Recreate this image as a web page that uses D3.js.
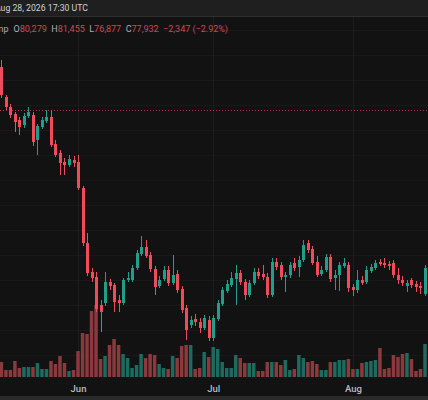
<!DOCTYPE html>
<html><head><meta charset="utf-8">
<script src="https://cdn.jsdelivr.net/npm/d3@7"></script>
<style>html,body{margin:0;padding:0;background:#121212;overflow:hidden}svg{display:block}</style>
</head><body><svg id="c" width="428" height="400"></svg>
<script>
// ---- data ----
const startDate = "2026-05-15";           // first daily candle
const monthTicks = ["2026-06-01", "2026-07-01", "2026-08-01"];
const open = [103800,100800,99800,99100,98500,98000,98900,99000,96500,97800,
98400,98800,96100,95200,94300,94000,94500,94300,91700,86200,
83300,82800,80000,80200,82300,82000,80500,80200,82500,82500,
83700,85100,85800,85000,83600,81900,82600,83500,82200,83100,
81600,79700,78000,78600,78300,77700,78500,76700,78600,80100,
81400,82000,82600,83200,82300,81000,82200,83300,83100,82800,
81000,84300,84000,82800,83000,84200,83800,84500,86200,85600,
84300,83100,83500,84800,82700,83000,83900,84000,81800,81500,
82500,82300,83400,83700,84300,84200,84100,84200,83000,82500,
81900,82500,82100,81900,81100];
const high = [104500,101000,100100,99300,98800,99200,99800,99300,98100,98800,
99500,99500,96500,95500,94700,95000,94900,95000,91900,87200,
83700,83300,80500,83300,82600,82200,81000,82700,83300,84000,
85500,86900,86500,85300,83900,82900,83900,83900,85000,83500,
81900,80000,78900,79100,78700,79000,78900,79000,80500,81800,
82500,83300,84000,83500,82600,82500,83700,83700,84000,83200,
84700,84700,84300,83300,84300,84700,84900,86500,86500,85900,
84900,83900,85100,85100,83500,84300,84700,84300,82100,83500,
82900,83900,84100,84500,84600,84700,84400,84500,83700,82900,
82500,82700,82400,82300,84000];
const low = [100700,99500,98700,97300,97000,97700,98700,95900,95000,97600,
98200,95800,94800,93000,93000,93800,93800,91500,85900,82900,
82300,79300,77300,79900,81500,79300,79300,80000,82300,82300,
83500,84900,84700,83300,81000,81700,82400,81900,82000,81200,
79200,76500,77700,77900,77200,77500,76400,76400,78400,79900,
81200,81800,80000,82000,80500,80800,82000,82600,82500,80700,
80800,83500,82500,81300,82700,83400,82800,84300,85200,84000,
82800,82900,83300,82300,81500,81400,83700,81300,80900,81200,
82000,82100,83200,83500,83900,83700,83500,82700,82100,81900,
81300,81700,81300,81100,80900];
const close = [101000,99800,99000,98300,97800,98900,99300,96300,97900,98500,
98800,96000,95000,94200,94000,94600,94200,91700,86200,83200,
82700,79600,79300,82300,81900,80300,80200,82500,82700,83700,
85200,85800,84900,83600,81800,82500,83500,82200,83000,81500,
79500,77500,78500,78300,77700,78700,76700,78700,80200,81500,
82100,82700,83200,82300,81000,82200,83300,82900,82800,81000,
84300,83800,82800,83000,84000,83700,84500,86000,85500,84200,
83000,83500,84800,82600,83000,84000,84200,81700,81500,82500,
82200,83500,83800,84200,84100,84000,83900,83000,82500,82200,
82200,82000,81800,81700,83700];
const volume = [15,7,7,16,9,10,10,10,14,8,
8,16,13,21,14,6,7,26,44,43,
66,72,18,21,32,38,32,23,19,9,
12,23,19,23,22,13,9,8,21,19,
31,32,32,8,9,25,20,30,28,15,
9,9,22,19,14,14,14,6,6,15,
15,15,12,17,7,8,22,19,15,16,
13,7,7,15,15,17,17,18,8,8,
14,15,16,17,29,8,9,22,20,23,
24,18,6,8,33];
const refPrice = 99500;
const gridStep = 2500;
const headerDate = "Aug 28, 2026 17:30 UTC";
const legendSymbol = "Bitcoin / U.S. Dollar · 1D · Bitstamp";
const legendLabels = ["O", "H", "L", "C"];
const legendValues = ["80,279", "81,455", "76,877", "77,932"];
const legendChange = "−2,347 (−2.92%)";

// ---- drawing ----
const W = 428, H = 400, paneTop = 17, paneBottom = 377;
const UP = "#1f9e89", DOWN = "#ef4b5b", VUP = "#1d6a60", VDOWN = "#8a3a3d";
const svg = d3.select("#c");
const font = "Roboto, 'Noto Sans', sans-serif";

svg.append("rect").attr("width", W).attr("height", H).attr("fill", "#121212");
svg.append("rect").attr("width", W).attr("height", 16).attr("fill", "#1f1f1f");
svg.append("rect").attr("y", 16).attr("width", W).attr("height", 1).attr("fill", "#2f2f2f");
svg.append("rect").attr("y", 396).attr("width", W).attr("height", 4).attr("fill", "#2a2a2a");

const t0 = new Date(startDate + "T00:00:00Z");
const dates = open.map((_, i) => d3.utcDay.offset(t0, i));
const data = dates.map((d, i) => ({d, o: open[i], h: high[i], l: low[i], c: close[i], v: volume[i]}));
const tickDates = monthTicks.map(s => new Date(s + "T00:00:00Z"));

const x = d3.scaleUtc().domain([dates[0], dates[dates.length - 1]]).range([1.4, 425]);
const y = d3.scaleLinear().domain([70500, 110500]).range([400, 0]);
const yv = d3.scaleLinear().domain([0, 100]).range([paneBottom, paneBottom - 100]);

svg.append("clipPath").attr("id", "pane").append("rect")
  .attr("x", 0).attr("y", paneTop).attr("width", W).attr("height", paneBottom - paneTop);
const pane = svg.append("g").attr("clip-path", "url(#pane)");

// grid
const gridPrices = d3.range(Math.ceil(y.invert(paneBottom) / gridStep) * gridStep, y.invert(paneTop), gridStep);
pane.append("g").selectAll("line").data(gridPrices).join("line")
  .attr("x1", 0).attr("x2", W)
  .attr("y1", p => Math.round(y(p)) + 0.5).attr("y2", p => Math.round(y(p)) + 0.5)
  .attr("stroke", "#191919");
pane.append("g").selectAll("line").data(tickDates).join("line")
  .attr("x1", d => Math.round(x(d)) + 0.5).attr("x2", d => Math.round(x(d)) + 0.5)
  .attr("y1", paneTop).attr("y2", paneBottom)
  .attr("stroke", "#1c1c1c");

// volume
pane.append("g").selectAll("rect").data(data).join("rect")
  .attr("x", d => x(d.d) - 1.75).attr("width", 3.5)
  .attr("y", d => yv(d.v)).attr("height", d => paneBottom - yv(d.v))
  .attr("fill", d => d.c >= d.o ? VUP : VDOWN);

// candles
const cg = pane.append("g").selectAll("g").data(data).join("g");
cg.append("line")
  .attr("x1", d => Math.round(x(d.d)) + 0.5).attr("x2", d => Math.round(x(d.d)) + 0.5)
  .attr("y1", d => y(d.h)).attr("y2", d => y(d.l))
  .attr("stroke", d => d.c >= d.o ? UP : DOWN).attr("stroke-width", 1);
cg.append("rect")
  .attr("x", d => Math.round(x(d.d)) - 1).attr("width", 3)
  .attr("y", d => Math.min(y(d.o), y(d.c)))
  .attr("height", d => Math.max(1, Math.abs(y(d.o) - y(d.c))))
  .attr("fill", d => d.c >= d.o ? UP : DOWN);

// dotted price line
pane.append("line")
  .attr("x1", 0).attr("x2", W)
  .attr("y1", Math.round(y(refPrice)) + 0.5).attr("y2", Math.round(y(refPrice)) + 0.5)
  .attr("stroke", "#e2404f").attr("stroke-opacity", 0.8).attr("stroke-dasharray", "1,2");

// x axis
const ax = svg.append("g").attr("transform", `translate(0,${paneBottom + 8})`)
  .call(d3.axisBottom(x).tickValues(tickDates).tickFormat(d3.utcFormat("%b")).tickSize(0).tickPadding(0));
ax.select(".domain").remove();
ax.selectAll("text").attr("fill", "#b8bbc2").attr("font-family", font)
  .attr("font-size", 9.5).attr("font-weight", 500).attr("dy", "0.7em");

// header
svg.append("text").attr("x", -5).attr("y", 11.3).attr("fill", "#cfd1d6")
  .attr("font-family", font).attr("font-size", 8.7).text(headerDate);

svg.append("text").attr("x", 8.5).attr("y", 31.5).attr("text-anchor", "end")
  .attr("fill", "#a9acb4").attr("font-family", font).attr("font-size", 9).text(legendSymbol);
const lg = svg.append("text").attr("x", 13.5).attr("y", 31.5)
  .attr("font-family", font).attr("font-size", 9);
legendLabels.forEach((lab, i) => {
  lg.append("tspan").attr("dx", i === 0 ? 0 : 4.5).attr("fill", "#a9acb4").text(lab);
  lg.append("tspan").attr("fill", "#d9434f").text(legendValues[i]);
});
lg.append("tspan").attr("dx", 4.5).attr("fill", "#d9434f").text(legendChange);
</script>
</body></html>
